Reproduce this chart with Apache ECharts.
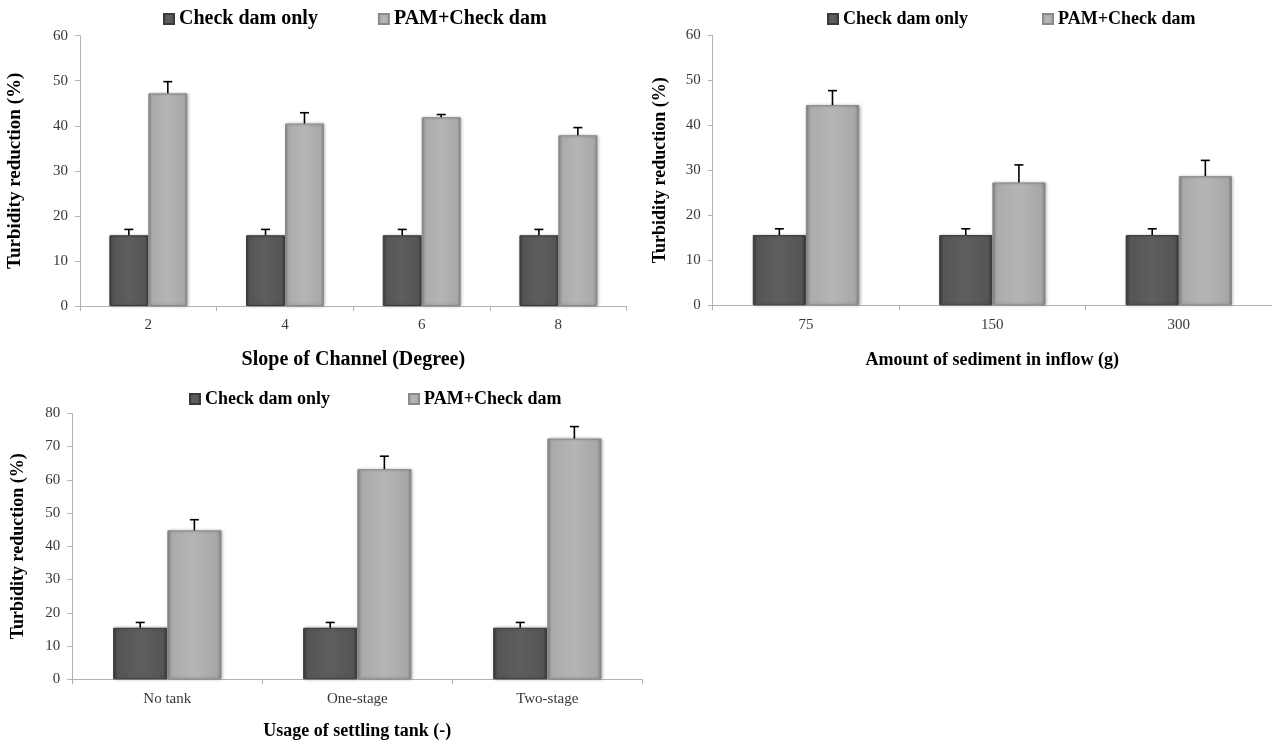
<!DOCTYPE html>
<html>
<head>
<meta charset="utf-8">
<script src="https://cdn.jsdelivr.net/npm/echarts@6/dist/echarts.min.js"></script>
<style>
  html, body { margin: 0; padding: 0; background: #fff; }
  #chart { width: 1272px; height: 744px; }
</style>
</head>
<body>
<div id="chart"></div>
<script>
const seriesNames = ['Check dam only', 'PAM+Check dam']

// panel 1: slope of channel
const slopeCats = ['2', '4', '6', '8']
const slopeCheck = [15.7, 15.7, 15.7, 15.7]
const slopeCheckErr = [1.3, 1.3, 1.3, 1.3]
const slopePam = [47.2, 40.5, 41.9, 37.9]
const slopePamErr = [2.6, 2.4, 0.6, 1.7]

// panel 2: sediment amount
const sedCats = ['75', '150', '300']
const sedCheck = [15.6, 15.6, 15.6]
const sedCheckErr = [1.4, 1.4, 1.4]
const sedPam = [44.5, 27.3, 28.7]
const sedPamErr = [3.2, 3.9, 3.5]

// panel 3: settling tank
const tankCats = ['No tank', 'One-stage', 'Two-stage']
const tankCheck = [15.5, 15.5, 15.5]
const tankCheckErr = [1.6, 1.6, 1.6]
const tankPam = [44.8, 63.2, 72.4]
const tankPamErr = [3.2, 3.9, 3.6]

const yTicks1 = [0, 60, 10]
const yTicks3 = [0, 80, 10]

const serif = "'Liberation Serif', 'Times New Roman', serif"
const BAR_W = 0.285

const darkFill = new echarts.graphic.LinearGradient(0, 0, 1, 0, [
  { offset: 0, color: '#3c3c3c' },
  { offset: 0.08, color: '#555555' },
  { offset: 0.5, color: '#5e5e5e' },
  { offset: 0.92, color: '#555555' },
  { offset: 1, color: '#383838' },
])
const lightFill = new echarts.graphic.LinearGradient(0, 0, 1, 0, [
  { offset: 0, color: '#878787' },
  { offset: 0.08, color: '#ababab' },
  { offset: 0.5, color: '#b5b5b5' },
  { offset: 0.92, color: '#a8a8a8' },
  { offset: 1, color: '#828282' },
])

const grids = [
  { left: 80, top: 35.7, width: 546.7, height: 270.3 },
  { left: 712.7, top: 35.3, width: 565, height: 270 },
  { left: 72.3, top: 413.3, width: 570, height: 266 },
]

const axisLineStyle = { lineStyle: { color: '#b3b3b3', width: 1 } }
const axisTickStyle = { show: true, length: 5, lineStyle: { color: '#b3b3b3' } }

const makeX = (gi, cats, name, nameSize, nameGap) => ({
  type: 'category',
  gridIndex: gi,
  data: cats,
  axisLine: axisLineStyle,
  axisTick: axisTickStyle,
  axisLabel: { fontFamily: serif, fontSize: 15, color: '#383838', margin: 12 },
  name: name,
  nameLocation: 'middle',
  nameGap: nameGap,
  nameTextStyle: { fontFamily: serif, fontSize: nameSize, fontWeight: 'bold', color: '#000' },
})

const makeY = (gi, ticks, nameGap, nameSize) => ({
  type: 'value',
  gridIndex: gi,
  min: ticks[0],
  max: ticks[1],
  interval: ticks[2],
  splitLine: { show: false },
  axisLine: { show: true, ...axisLineStyle },
  axisTick: axisTickStyle,
  axisLabel: { fontFamily: serif, fontSize: 15, color: '#383838', margin: 12 },
  name: 'Turbidity reduction (%)',
  nameLocation: 'middle',
  nameGap: nameGap,
  nameTextStyle: { fontFamily: serif, fontSize: nameSize, fontWeight: 'bold', color: '#000' },
})

const barSeries = (gi, name, values, fill, border) => ({
  type: 'bar',
  name: name,
  xAxisIndex: gi,
  yAxisIndex: gi,
  data: values,
  barWidth: BAR_W * 100 + '%',
  barGap: '0%',
  itemStyle: {
    color: fill,
    borderColor: border,
    borderWidth: 1,
    shadowColor: 'rgba(0,0,0,0.3)',
    shadowBlur: 3,
    shadowOffsetX: 1,
    shadowOffsetY: 0,
  },
})

// upper-only error bars, side -1 = left bar of the pair, +1 = right bar
const errSeries = (gi, values, errs, side) => ({
  type: 'custom',
  xAxisIndex: gi,
  yAxisIndex: gi,
  z: 5,
  silent: true,
  data: values.map((v, i) => [i, v, errs[i]]),
  encode: { x: 0, y: 1 },
  renderItem: (params, api) => {
    const i = api.value(0)
    const mean = api.value(1)
    const err = api.value(2)
    const band = api.size([1, 0])[0]
    const dx = side * band * BAR_W / 2
    const base = api.coord([i, mean])
    const top = api.coord([i, mean + err])
    const x = base[0] + dx
    const style = { stroke: '#000', lineWidth: 1.6 }
    return {
      type: 'group',
      children: [
        { type: 'line', shape: { x1: x, y1: base[1], x2: x, y2: top[1] }, style },
        { type: 'line', shape: { x1: x - 4.5, y1: top[1], x2: x + 4.5, y2: top[1] }, style },
      ],
    }
  },
})

const makeLegend = (left, top, size, gap) => ({
  data: seriesNames,
  left: left,
  top: top,
  itemWidth: 10,
  itemHeight: 10,
  itemGap: gap,
  icon: 'rect',
  selectedMode: false,
  textStyle: { fontFamily: serif, fontSize: size, fontWeight: 'bold', color: '#000' },
})

const panels = [
  [slopeCheck, slopeCheckErr, slopePam, slopePamErr],
  [sedCheck, sedCheckErr, sedPam, sedPamErr],
  [tankCheck, tankCheckErr, tankPam, tankPamErr],
]

const series = []
panels.forEach((p, gi) => {
  series.push(barSeries(gi, seriesNames[0], p[0], darkFill, '#3a3a3a'))
  series.push(barSeries(gi, seriesNames[1], p[2], lightFill, '#8a8a8a'))
  series.push(errSeries(gi, p[0], p[1], -1))
  series.push(errSeries(gi, p[2], p[3], 1))
})

const chart = echarts.init(document.getElementById('chart'), null, { renderer: 'canvas' })
chart.setOption({
  backgroundColor: '#fff',
  animation: false,
  legend: [
    makeLegend(158, 4, 20, 60),
    makeLegend(822, 5, 18, 74),
    makeLegend(184, 385, 18, 78),
  ],
  grid: grids,
  xAxis: [
    makeX(0, slopeCats, 'Slope of Channel (Degree)', 20, 44),
    makeX(1, sedCats, 'Amount of sediment in inflow (g)', 18, 46),
    makeX(2, tankCats, 'Usage of settling tank (-)', 18, 43),
  ],
  yAxis: [
    makeY(0, yTicks1, 55, 19),
    makeY(1, yTicks1, 43, 18),
    makeY(2, yTicks3, 45, 18),
  ],
  series: series,
})
</script>
</body>
</html>
